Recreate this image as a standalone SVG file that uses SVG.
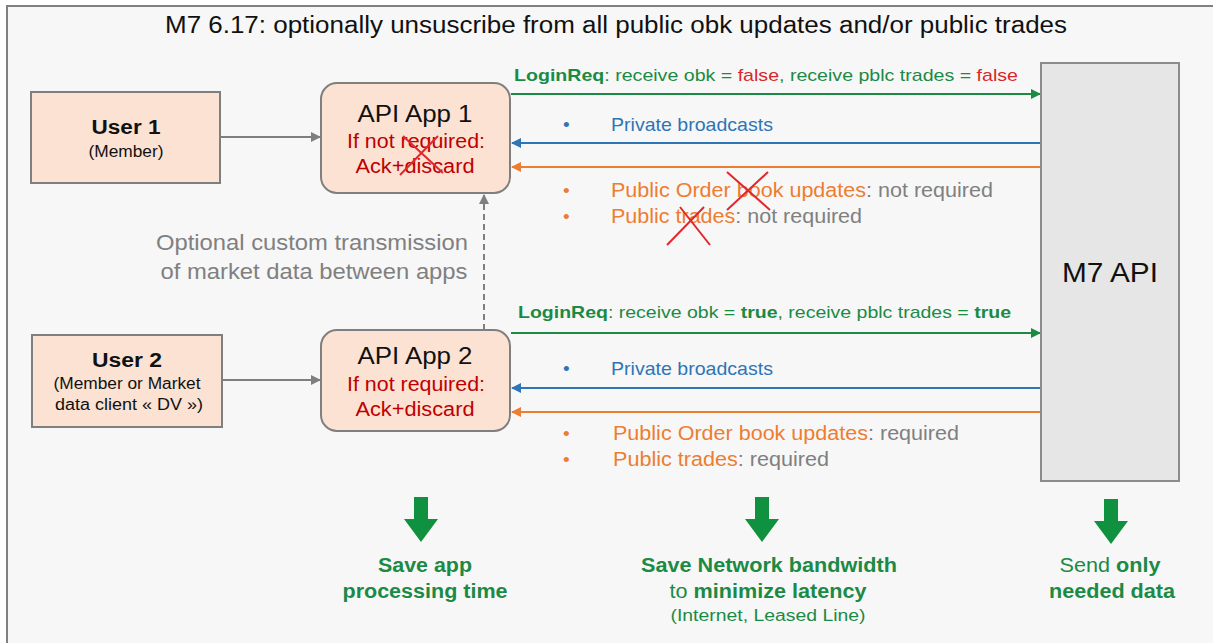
<svg xmlns="http://www.w3.org/2000/svg" width="1213" height="643" viewBox="0 0 1213 643">
<style>
text{font-family:"Liberation Sans",Arial,sans-serif}
.box{fill:#fbe2d2;stroke:#7f7f7f;stroke-width:2}
.g{fill:#1b8a45}
.r{fill:#d9262a}
.gr{fill:#808080}
.bl{fill:#2e75b6}
.or{fill:#ed7d31}
.dr{fill:#c00000}
.b{font-weight:bold}
.x{stroke:#e0282c;stroke-width:2}
</style>
<defs>
<marker id="mg" markerWidth="10" markerHeight="10" refX="9" refY="5" orient="auto" markerUnits="userSpaceOnUse"><path d="M0,0 L10,5 L0,10z" fill="#1b8a45"/></marker>
<marker id="mb" markerWidth="10" markerHeight="10" refX="9" refY="5" orient="auto" markerUnits="userSpaceOnUse"><path d="M0,0 L10,5 L0,10z" fill="#2e75b6"/></marker>
<marker id="mo" markerWidth="10" markerHeight="10" refX="9" refY="5" orient="auto" markerUnits="userSpaceOnUse"><path d="M0,0 L10,5 L0,10z" fill="#ed7d31"/></marker>
<marker id="mgr" markerWidth="10" markerHeight="10" refX="9" refY="5" orient="auto" markerUnits="userSpaceOnUse"><path d="M0,0 L10,5 L0,10z" fill="#7f7f7f"/></marker>
<path id="bigarrow" d="M-7,0 H7 V22 H17 L0,45 L-17,22 H-7z" fill="#10913f"/>
</defs>
<rect x="0" y="0" width="1213" height="643" fill="#ffffff"/>
<rect x="7" y="6" width="1220" height="650" fill="#f7f7f7" stroke="#808080" stroke-width="2"/>
<text x="616" y="33" font-size="23" text-anchor="middle" fill="#111" textLength="902" lengthAdjust="spacingAndGlyphs">M7 6.17: optionally unsuscribe from all public obk updates and/or public trades</text>

<g id="connectors">
<line x1="221" y1="137" x2="320" y2="137" stroke="#7f7f7f" stroke-width="2" marker-end="url(#mgr)"/>
<line x1="223" y1="380" x2="320" y2="380" stroke="#7f7f7f" stroke-width="2" marker-end="url(#mgr)"/>
<line x1="484" y1="330" x2="484" y2="195" stroke="#7f7f7f" stroke-width="2" stroke-dasharray="6,4" marker-end="url(#mgr)"/>
<line x1="511" y1="94" x2="1040" y2="94" stroke="#1b8a45" stroke-width="2" marker-end="url(#mg)"/>
<line x1="1040" y1="143" x2="512" y2="143" stroke="#2e75b6" stroke-width="2" marker-end="url(#mb)"/>
<line x1="1040" y1="167" x2="512" y2="167" stroke="#ed7d31" stroke-width="2" marker-end="url(#mo)"/>
<line x1="511" y1="333" x2="1040" y2="333" stroke="#1b8a45" stroke-width="2" marker-end="url(#mg)"/>
<line x1="1040" y1="388" x2="512" y2="388" stroke="#2e75b6" stroke-width="2" marker-end="url(#mb)"/>
<line x1="1040" y1="412" x2="512" y2="412" stroke="#ed7d31" stroke-width="2" marker-end="url(#mo)"/>
</g>

<g id="user1">
<rect class="box" x="31" y="92" width="189" height="91"/>
<text x="126" y="134" font-size="20" class="b" text-anchor="middle" fill="#111" textLength="69" lengthAdjust="spacingAndGlyphs">User 1</text>
<text x="126" y="157" font-size="16" text-anchor="middle" fill="#111" textLength="75" lengthAdjust="spacingAndGlyphs">(Member)</text>
</g>
<g id="user2">
<rect class="box" x="32" y="335" width="190" height="92"/>
<text x="127" y="367" font-size="20" class="b" text-anchor="middle" fill="#111" textLength="70" lengthAdjust="spacingAndGlyphs">User 2</text>
<text x="127" y="389" font-size="16" text-anchor="middle" fill="#111" textLength="147" lengthAdjust="spacingAndGlyphs">(Member or Market</text>
<text x="129" y="410" font-size="16" text-anchor="middle" fill="#111" textLength="148" lengthAdjust="spacingAndGlyphs">data client « DV »)</text>
</g>
<g id="app1">
<rect class="box" x="321" y="83" width="189" height="110" rx="16"/>
<text x="415" y="122" font-size="24" text-anchor="middle" fill="#111" textLength="115" lengthAdjust="spacingAndGlyphs">API App 1</text>
<text x="416" y="148" font-size="20" text-anchor="middle" class="dr" textLength="138" lengthAdjust="spacingAndGlyphs">If not required:</text>
<text x="415" y="173" font-size="20" text-anchor="middle" class="dr" textLength="119" lengthAdjust="spacingAndGlyphs">Ack+discard</text>
<line class="x" x1="403" y1="136" x2="443" y2="173"/>
<line class="x" x1="438" y1="136" x2="400" y2="175"/>
</g>
<g id="app2">
<rect class="box" x="321" y="330" width="189" height="101" rx="16"/>
<text x="415" y="364" font-size="24" text-anchor="middle" fill="#111" textLength="115" lengthAdjust="spacingAndGlyphs">API App 2</text>
<text x="416" y="391" font-size="20" text-anchor="middle" class="dr" textLength="138" lengthAdjust="spacingAndGlyphs">If not required:</text>
<text x="415" y="416" font-size="20" text-anchor="middle" class="dr" textLength="119" lengthAdjust="spacingAndGlyphs">Ack+discard</text>
</g>
<g id="m7api">
<rect x="1041" y="63" width="138" height="418" fill="#e6e6e6" stroke="#8c8c8c" stroke-width="2"/>
<text x="1110" y="282" font-size="28" text-anchor="middle" fill="#111" textLength="96" lengthAdjust="spacingAndGlyphs">M7 API</text>
</g>

<g id="labels">
<text x="312" y="250" font-size="22" text-anchor="middle" class="gr" textLength="312" lengthAdjust="spacingAndGlyphs">Optional custom transmission</text>
<text x="314" y="279" font-size="22" text-anchor="middle" class="gr" textLength="307" lengthAdjust="spacingAndGlyphs">of market data between apps</text>

<text x="514" y="81" font-size="17" class="g" textLength="504" lengthAdjust="spacingAndGlyphs"><tspan class="b">LoginReq</tspan>: receive obk = <tspan class="r">false</tspan>, receive pblc trades = <tspan class="r">false</tspan></text>
<text x="563" y="131" font-size="19" class="bl">•</text>
<text x="611" y="131" font-size="19" class="bl" textLength="162" lengthAdjust="spacingAndGlyphs">Private broadcasts</text>
<text x="563" y="197" font-size="19" class="or">•</text>
<text x="611" y="197" font-size="20" class="or" textLength="382" lengthAdjust="spacingAndGlyphs">Public Order book updates<tspan class="gr">: not required</tspan></text>
<text x="563" y="223" font-size="19" class="or">•</text>
<text x="611" y="223" font-size="20" class="or" textLength="251" lengthAdjust="spacingAndGlyphs">Public trades<tspan class="gr">: not required</tspan></text>
<line class="x" x1="727" y1="172" x2="770" y2="210"/>
<line class="x" x1="768" y1="172" x2="727" y2="210"/>
<line class="x" x1="680" y1="207" x2="710" y2="245"/>
<line class="x" x1="704" y1="207" x2="667" y2="245"/>

<text x="518" y="318" font-size="17" class="g" textLength="493" lengthAdjust="spacingAndGlyphs"><tspan class="b">LoginReq</tspan>: receive obk = <tspan class="b">true</tspan>, receive pblc trades = <tspan class="b">true</tspan></text>
<text x="563" y="375" font-size="19" class="bl">•</text>
<text x="611" y="375" font-size="19" class="bl" textLength="162" lengthAdjust="spacingAndGlyphs">Private broadcasts</text>
<text x="563" y="440" font-size="19" class="or">•</text>
<text x="613" y="440" font-size="20" class="or" textLength="346" lengthAdjust="spacingAndGlyphs">Public Order book updates<tspan class="gr">: required</tspan></text>
<text x="563" y="466" font-size="19" class="or">•</text>
<text x="613" y="466" font-size="20" class="or" textLength="216" lengthAdjust="spacingAndGlyphs">Public trades<tspan class="gr">: required</tspan></text>
</g>

<g id="benefits">
<use href="#bigarrow" x="421" y="497"/>
<use href="#bigarrow" x="762" y="497"/>
<use href="#bigarrow" x="1111" y="499"/>
<text x="425" y="572" font-size="20" class="g b" text-anchor="middle" textLength="94" lengthAdjust="spacingAndGlyphs">Save app</text>
<text x="425" y="598" font-size="20" class="g b" text-anchor="middle" textLength="165" lengthAdjust="spacingAndGlyphs">processing time</text>
<text x="769" y="572" font-size="20" class="g b" text-anchor="middle" textLength="256" lengthAdjust="spacingAndGlyphs">Save Network bandwidth</text>
<text x="768" y="598" font-size="20" class="g" text-anchor="middle" textLength="197" lengthAdjust="spacingAndGlyphs">to <tspan class="b">minimize latency</tspan></text>
<text x="768" y="621" font-size="16" class="g" text-anchor="middle" textLength="195" lengthAdjust="spacingAndGlyphs">(Internet, Leased Line)</text>
<text x="1110" y="572" font-size="20" class="g" text-anchor="middle" textLength="101" lengthAdjust="spacingAndGlyphs">Send <tspan class="b">only</tspan></text>
<text x="1112" y="598" font-size="20" class="g b" text-anchor="middle" textLength="126" lengthAdjust="spacingAndGlyphs">needed data</text>
</g>
</svg>
